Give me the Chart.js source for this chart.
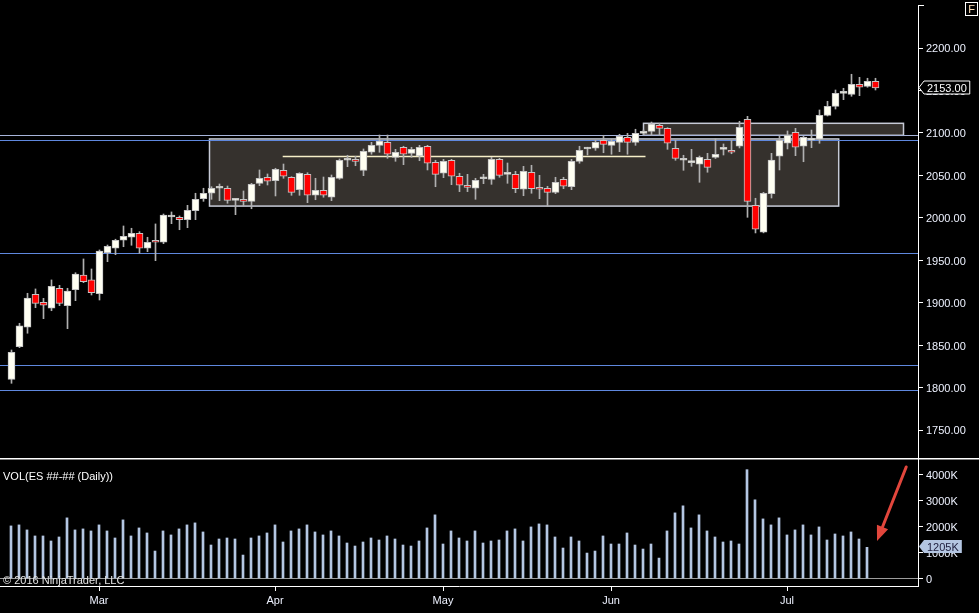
<!DOCTYPE html>
<html>
<head>
<meta charset="utf-8">
<script src="https://cdn.jsdelivr.net/npm/chart.js@4.4.1/dist/chart.umd.min.js"></script>
<style>
html, body { margin: 0; padding: 0; background: #000; overflow: hidden; }
#wrap { position: relative; width: 979px; height: 613px; background: #000; font-family: "Liberation Sans", Arial, sans-serif; }
#priceBox { position: absolute; left: 0; top: 0; width: 979px; height: 460px; }
#volBox { position: absolute; left: 0; top: 458px; width: 979px; height: 155px; }
.txt { position: absolute; color: #fff; font-size: 11px; white-space: nowrap; line-height: 13px; }
#fbox { position: absolute; left: 965px; top: 2px; width: 11px; height: 12px; border: 1px solid #fff; color: #ffe0b8; font-size: 11px; line-height: 12px; text-align: center; }
</style>
</head>
<body>
<div id="wrap">
    <div id="priceBox"><canvas id="priceChart"></canvas></div>
    <div id="volBox"><canvas id="volChart"></canvas></div>
    <div class="txt" style="left:3px;top:470px;">VOL(ES ##-## (Daily))</div>
    <div class="txt" style="left:3px;top:574px;color:#e4e4e4;">© 2016 NinjaTrader, LLC</div>
    <div id="fbox">F</div>
</div>
<script>
// trading days shown, by month (2016)
const febDays = [12, 16, 17, 18, 19, 22, 23, 24, 25, 26, 29];
const marDays = [1, 2, 3, 4, 7, 8, 9, 10, 11, 14, 15, 16, 17, 18, 21, 22, 23, 24, 28, 29, 30, 31];
const aprDays = [1, 4, 5, 6, 7, 8, 11, 12, 13, 14, 15, 18, 19, 20, 21, 22, 25, 26, 27, 28, 29];
const mayDays = [2, 3, 4, 5, 6, 9, 10, 11, 12, 13, 16, 17, 18, 19, 20, 23, 24, 25, 26, 27, 31];
const junDays = [1, 2, 3, 6, 7, 8, 9, 10, 13, 14, 15, 16, 17, 20, 21, 22, 23, 24, 27, 28, 29, 30];
const julDays = [1, 5, 6, 7, 8, 11, 12, 13, 14, 15, 18, 19];
const monthNames = ['Feb', 'Mar', 'Apr', 'May', 'Jun', 'Jul'];

const opens = [1810.2, 1848.6, 1871.4, 1910.2, 1900.8, 1893.8, 1917.3, 1896.8, 1915.6, 1932.9,
    1927.1, 1910.9, 1959.2, 1964.4, 1973.8, 1977.3, 1982, 1964.4, 1973.8, 1971.4,
    2001.2, 2000.8, 1998, 2008.6, 2022.7, 2029.1, 2035, 2035, 2020.8, 2022,
    2019.6, 2040.8, 2047.9, 2043.9, 2056.1, 2047.9, 2033.3, 2051.4, 2026.7, 2032.6,
    2024.4, 2046.7, 2067.9, 2069, 2056.1, 2077.3, 2085.5, 2089, 2071.4, 2083.2,
    2076.1, 2072.9, 2084.4, 2065.5, 2052.6, 2067.9, 2049.1, 2038.5, 2035, 2046.2,
    2045.5, 2069, 2051.4, 2051.4, 2033.8, 2053.8, 2036.1, 2035, 2030.2, 2045.5,
    2036.8, 2066.7, 2081.2, 2082, 2091.4, 2085.5, 2089, 2094.9, 2089, 2099.6,
    2102, 2109.1, 2105.5, 2082, 2067.9, 2065.1, 2063.2, 2069, 2071.4, 2080.8,
    2079.6, 2084.4, 2116.1, 2014.9, 1983.2, 2028.6, 2072.6, 2087.9, 2100.8, 2084.4,
    2091.6, 2092.6, 2120.8, 2131.4, 2146.7, 2145.5, 2157.3, 2154.9, 2160.8];
const highs = [1844.7, 1876.1, 1911.4, 1916.5, 1905.5, 1927.1, 1920.8, 1917.3, 1935.6, 1951.8,
    1940, 1962.4, 1968.2, 1975, 1990.6, 1987.9, 1983.9, 1977.3, 1993, 2004.7,
    2007.1, 2002.4, 2014.9, 2029.1, 2035, 2036.8, 2040, 2037.6, 2022.4, 2031.8,
    2040.8, 2056.5, 2051.8, 2058.5, 2063.5, 2048.6, 2053.3, 2053.3, 2046.7, 2048.2,
    2050.6, 2069.4, 2073.8, 2072.6, 2081.2, 2089, 2097.6, 2097.6, 2080.8, 2084.4,
    2083.2, 2085.5, 2085.5, 2067.9, 2069, 2069, 2052.6, 2051.4, 2046.7, 2051.4,
    2071.4, 2070.2, 2064.7, 2054.9, 2060.8, 2062, 2050.2, 2037.3, 2047.9, 2047.9,
    2069, 2084.4, 2083.2, 2091.4, 2097.3, 2092.6, 2098.5, 2099.6, 2104.4, 2103.5,
    2112.9, 2111.4, 2106.2, 2091.4, 2073.8, 2080.8, 2072.9, 2076.1, 2093.3, 2087.1,
    2091.4, 2113.8, 2119.6, 2023.2, 2030.2, 2076.1, 2096.5, 2102.4, 2105.5, 2096.1,
    2103.5, 2127.1, 2137.3, 2150.6, 2152.6, 2169.1, 2165.5, 2164.4, 2164.4];
const lows = [1805.5, 1847.4, 1864.4, 1894.5, 1881.5, 1890.9, 1896.8, 1869.8, 1902.7, 1923.9,
    1909.4, 1903.5, 1948.6, 1956.8, 1966.2, 1967.9, 1958.5, 1960.4, 1949.8, 1969.8,
    1993.3, 1986.2, 1988.6, 1998, 2019.6, 2022, 2020.4, 2017.3, 2003.9, 2014.1,
    2010.9, 2038, 2038.8, 2025.9, 2046.7, 2026.7, 2026.7, 2018, 2021.5, 2024.4,
    2020.4, 2045.5, 2060.4, 2061.5, 2049.8, 2075, 2077.3, 2070.2, 2066.7, 2062.7,
    2071.4, 2067.4, 2056.5, 2036.8, 2047.4, 2039.2, 2031, 2031, 2022, 2040.4,
    2039.6, 2047.9, 2040.8, 2029.8, 2026.2, 2029.1, 2022.7, 2013.3, 2028.6, 2034.5,
    2033.3, 2064.4, 2074.1, 2079.6, 2076.8, 2075, 2078, 2075, 2085.5, 2097.5,
    2097.3, 2097.3, 2080.8, 2067.9, 2056.1, 2060.8, 2042, 2053.8, 2070, 2074.1,
    2075.6, 2082.4, 2000.8, 1982.4, 1982.5, 2023.5, 2056.5, 2081.2, 2073.3, 2066.2,
    2082.7, 2087.9, 2120, 2128.2, 2139.2, 2143.2, 2143.9, 2153.8, 2150.6];
const closes = [1842, 1873, 1905.9, 1899.6, 1897.3, 1919.6, 1899.6, 1914.1, 1934.1, 1925.1,
    1912.1, 1961.2, 1966.7, 1973.8, 1978.5, 1982, 1964.4, 1971.4, 1971.4, 2003.5,
    2001.2, 1998, 2009.1, 2022, 2029.1, 2035, 2035, 2020.8, 2020.8, 2019.6,
    2039.6, 2046.7, 2043.2, 2057.3, 2049.1, 2030.2, 2052.6, 2026.7, 2032.6, 2026.7,
    2047.9, 2067.9, 2067.9, 2066.7, 2078.5, 2085.5, 2090.6, 2075, 2077.3, 2075,
    2080.8, 2083.2, 2064.4, 2051.4, 2066.7, 2049.1, 2038.5, 2036.1, 2044.4, 2046.2,
    2069, 2050.2, 2051.4, 2034.5, 2054.9, 2034.5, 2033.8, 2030.2, 2042, 2037.3,
    2066.7, 2079.6, 2081.2, 2089, 2086.7, 2090.2, 2096.1, 2089, 2099.6, 2102,
    2110.6, 2105.5, 2087.9, 2070.2, 2067.9, 2065.1, 2071.4, 2059.6, 2075, 2080.8,
    2077.3, 2106.7, 2019.6, 1986.7, 2029.1, 2068.2, 2091.4, 2097.3, 2083.2, 2094.9,
    2091.6, 2120.8, 2131.4, 2146.7, 2146.7, 2157.3, 2153.8, 2160.8, 2153];

// daily volume, thousands of contracts
const volumes = [2032, 2071, 1877, 1644, 1644, 1450, 1605, 2343, 1877, 1916,
    1838, 2071, 1838, 1566, 2265, 1644, 1954, 1760, 1061, 1838,
    1683, 1916, 2071, 2149, 1799, 1294, 1527, 1566, 1527, 906,
    1566, 1644, 1760, 2071, 1411, 1838, 1916, 2071, 1799, 1683,
    1838, 1644, 1372, 1255, 1411, 1566, 1488, 1644, 1527, 1294,
    1255, 1450, 1954, 2459, 1333, 1838, 1566, 1450, 1838, 1372,
    1450, 1488, 1838, 1916, 1450, 1993, 2109, 2071, 1605, 1178,
    1605, 1450, 983, 1061, 1644, 1333, 1333, 1760, 1294, 1139,
    1333, 789, 1838, 2536, 2808, 1954, 2459, 1838, 1605, 1411,
    1450, 1333, 4206, 3041, 2303, 2071, 2343, 1683, 1877, 2071,
    1683, 1993, 1488, 1721, 1644, 1799, 1527, 1205];

const priceTicks = [1750, 1800, 1850, 1900, 1950, 2000, 2050, 2100, 2150, 2200];
const volumeTicks = [0, 1000, 2000, 3000, 4000];

// drawn levels and zones (price units, bar index units)
const levelPrices = [2097.3, 2091.4, 1958.5, 1826.7, 1797.3];
const zoneFrom = [24.75, 79];
const zoneTo = [103.4, 111.5];
const zoneHigh = [2093, 2111.4];
const zoneLow = [2014, 2097.3];
const rangeLineFrom = 33.9;
const rangeLineTo = 79.25;
const rangeLinePrice = 2072.6;

const dates = [];
const monthStarts = [];
const monthStartLabels = [];
[febDays, marDays, aprDays, mayDays, junDays, julDays].forEach((days, m) => {
    if (m > 0) {
        monthStarts.push(dates.length);
        monthStartLabels.push(monthNames[m]);
    }
    days.forEach(d => dates.push('2016-' + String(m + 2).padStart(2, '0') + '-' + String(d).padStart(2, '0')));
});

const FONT = '"Liberation Sans", Arial, sans-serif';
Chart.defaults.font.family = FONT;
Chart.defaults.font.size = 11;
Chart.defaults.color = '#eef2ff';

const upFill = '#fffff2';
const downFill = '#ff0000';

function drawTag(ctx, x, y, text, fill, stroke, color) {
    ctx.save();
    ctx.font = '11px ' + FONT;
    const w = ctx.measureText(text).width + 6;
    const h = 13;
    ctx.beginPath();
    ctx.moveTo(x + 1, y);
    ctx.lineTo(x + 6, y - h / 2);
    ctx.lineTo(x + 6 + w, y - h / 2);
    ctx.lineTo(x + 6 + w, y + h / 2);
    ctx.lineTo(x + 6, y + h / 2);
    ctx.closePath();
    ctx.fillStyle = fill;
    ctx.fill();
    if (stroke) {
        ctx.strokeStyle = stroke;
        ctx.lineWidth = 1;
        ctx.stroke();
    }
    ctx.fillStyle = color;
    ctx.textBaseline = 'middle';
    ctx.fillText(text, x + 9, y + 1);
    ctx.restore();
}

// Chart.js reserves room for half a label at the axis ends; the panels here are flush
const noEdgePad = s => {
    s.paddingTop = 0;
    s.paddingBottom = 0;
    s.paddingLeft = 0;
    s.paddingRight = 0;
};

const priceOverlay = {
    id: 'priceOverlay',
    beforeDatasetsDraw(chart) {
        const { ctx, chartArea: a, scales: { x, y } } = chart;
        ctx.save();
        zoneFrom.forEach((from, k) => {
            const x0 = x.getPixelForValue(from);
            const x1 = x.getPixelForValue(zoneTo[k]);
            const y0 = y.getPixelForValue(zoneHigh[k]);
            const y1 = y.getPixelForValue(zoneLow[k]);
            ctx.fillStyle = '#35312d';
            ctx.fillRect(x0, y0, x1 - x0, y1 - y0);
            ctx.strokeStyle = '#c6cad6';
            ctx.lineWidth = 1.5;
            ctx.strokeRect(x0, y0, x1 - x0, y1 - y0);
        });
        levelPrices.forEach((p, k) => {
            const py = Math.round(y.getPixelForValue(p)) + 0.5;
            ctx.strokeStyle = k === 0 ? '#a7b4da' : '#5f88de';
            ctx.lineWidth = 1;
            ctx.beginPath();
            ctx.moveTo(a.left, py);
            ctx.lineTo(a.right, py);
            ctx.stroke();
        });
        const ry = Math.round(y.getPixelForValue(rangeLinePrice)) + 0.5;
        ctx.strokeStyle = '#f6efc8';
        ctx.lineWidth = 1.5;
        ctx.beginPath();
        ctx.moveTo(x.getPixelForValue(rangeLineFrom), ry);
        ctx.lineTo(x.getPixelForValue(rangeLineTo), ry);
        ctx.stroke();
        ctx.restore();
    },
    afterDraw(chart) {
        const { ctx, chartArea: a, scales: { y } } = chart;
        ctx.save();
        ctx.strokeStyle = '#fff';
        ctx.lineWidth = 1;
        ctx.beginPath();
        ctx.moveTo(a.right, a.top + 0.5);
        ctx.lineTo(a.right + 6, a.top + 0.5);
        ctx.stroke();
        ctx.restore();
        const last = closes[closes.length - 1];
        drawTag(ctx, a.right, Math.round(y.getPixelForValue(last)) - 0.5, last.toFixed(2), '#000', '#fff', '#fff');
    }
};

const volOverlay = {
    id: 'volOverlay',
    beforeDatasetsDraw(chart) {
        const { ctx, chartArea: a, scales: { y } } = chart;
        const zy = Math.round(y.getPixelForValue(0)) + 0.5;
        ctx.save();
        ctx.strokeStyle = '#9c9c9c';
        ctx.lineWidth = 1;
        ctx.beginPath();
        ctx.moveTo(a.left, zy);
        ctx.lineTo(a.right, zy);
        ctx.stroke();
        ctx.restore();
    },
    afterDraw(chart) {
        const { ctx, chartArea: a, scales: { x, y } } = chart;
        ctx.save();
        ctx.strokeStyle = '#fff';
        ctx.lineWidth = 1.5;
        ctx.beginPath();
        ctx.moveTo(0, a.top + 0.75);
        ctx.lineTo(chart.width, a.top + 0.75);
        ctx.stroke();
        // red arrow pointing at the last volume bar
        const sx = x.getPixelForValue(111.9), sy = y.getPixelForValue(4310);
        const tx = x.getPixelForValue(108.25), ty = y.getPixelForValue(1450);
        const ang = Math.atan2(ty - sy, tx - sx);
        const hl = 15, hw = 6;
        const bx = tx - Math.cos(ang) * hl, by = ty - Math.sin(ang) * hl;
        ctx.strokeStyle = '#e2463c';
        ctx.fillStyle = '#e2463c';
        ctx.lineWidth = 3;
        ctx.lineCap = 'round';
        ctx.beginPath();
        ctx.moveTo(sx, sy);
        ctx.lineTo(bx, by);
        ctx.stroke();
        ctx.beginPath();
        ctx.moveTo(tx, ty);
        ctx.lineTo(bx + Math.sin(ang) * hw, by - Math.cos(ang) * hw);
        ctx.lineTo(bx - Math.sin(ang) * hw, by + Math.cos(ang) * hw);
        ctx.closePath();
        ctx.fill();
        ctx.restore();
        const lastVol = volumes[volumes.length - 1];
        drawTag(ctx, a.right, Math.round(y.getPixelForValue(lastVol)) - 0.5, lastVol + 'K', '#b4c6e2', null, '#1c1c3c');
    }
};

const axisGrid = { display: true, drawOnChartArea: false, drawTicks: true, tickLength: 5, color: '#fff', offset: false };

new Chart(document.getElementById('priceChart'), {
    type: 'bar',
    data: {
        datasets: [{
            label: 'body',
            data: dates.map((d, i) => ({ x: i, y: [opens[i], closes[i]] })),
            backgroundColor: closes.map((c, i) => c >= opens[i] ? upFill : downFill),
            borderColor: '#c4c4c4',
            borderWidth: 1,
            borderSkipped: false,
            barThickness: 7,
            minBarLength: 2,
            grouped: false
        }, {
            label: 'wick',
            data: dates.map((d, i) => ({ x: i, y: [lows[i], highs[i]] })),
            backgroundColor: '#b0b0b0',
            borderWidth: 0,
            barThickness: 1,
            grouped: false
        }]
    },
    options: {
        responsive: true,
        maintainAspectRatio: false,
        animation: false,
        layout: { padding: { top: 5, bottom: 2, left: 0, right: 0 } },
        plugins: { legend: { display: false }, tooltip: { enabled: false } },
        scales: {
            x: { type: 'linear', display: false, offset: false, min: -1.4375, max: 113.3125, afterFit: noEdgePad },
            y: {
                position: 'right',
                min: 1717.6,
                max: 2250.6,
                afterBuildTicks: s => { s.ticks = priceTicks.map(v => ({ value: v })); },
                afterFit: s => { s.width = 61; noEdgePad(s); },
                grid: axisGrid,
                border: { display: true, color: '#fff', width: 1 },
                ticks: { padding: 3, labelOffset: 1, callback: v => Number(v).toFixed(2) }
            }
        }
    },
    plugins: [priceOverlay]
});

new Chart(document.getElementById('volChart'), {
    type: 'bar',
    data: {
        datasets: [{
            label: 'VOL',
            data: volumes.map((v, i) => ({ x: i, y: v })),
            backgroundColor: '#b4c6e2',
            borderWidth: 0,
            barThickness: 2,
            grouped: false
        }]
    },
    options: {
        responsive: true,
        maintainAspectRatio: false,
        animation: false,
        layout: { padding: { top: 0, bottom: 0, left: 0, right: 0 } },
        plugins: { legend: { display: false }, tooltip: { enabled: false } },
        scales: {
            x: {
                type: 'linear',
                position: 'bottom',
                offset: false,
                min: -1.375,
                max: 113.375,
                afterBuildTicks: s => { s.ticks = monthStarts.map(v => ({ value: v })); },
                afterFit: s => { s.height = 27; noEdgePad(s); },
                grid: axisGrid,
                border: { display: true, color: '#fff', width: 1 },
                ticks: {
                    padding: 3,
                    autoSkip: false,
                    maxRotation: 0,
                    callback: v => monthStartLabels[monthStarts.indexOf(v)]
                }
            },
            y: {
                position: 'right',
                min: -290,
                max: 4657,
                afterBuildTicks: s => { s.ticks = volumeTicks.map(v => ({ value: v })); },
                afterFit: s => { s.width = 61; noEdgePad(s); },
                grid: axisGrid,
                border: { display: true, color: '#fff', width: 1 },
                ticks: { padding: 3, labelOffset: 1, callback: v => v === 0 ? '0' : v + 'K' }
            }
        }
    },
    plugins: [volOverlay]
});
</script>
</body>
</html>
